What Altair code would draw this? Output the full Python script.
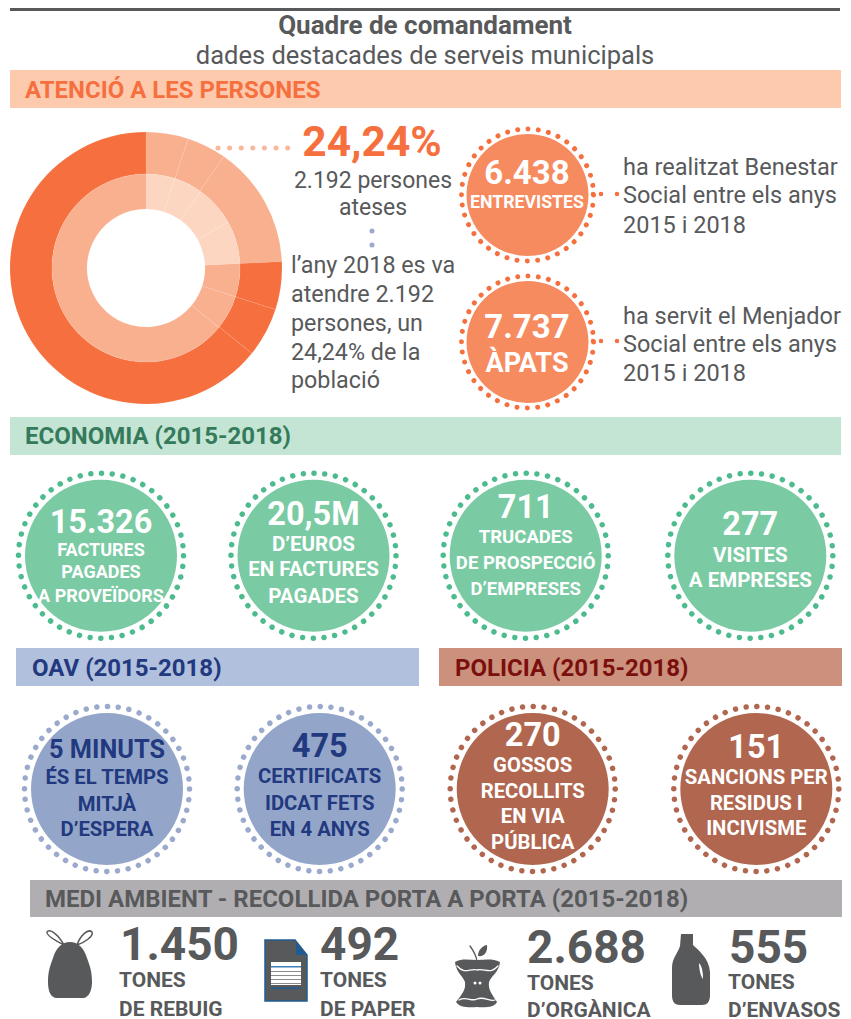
import re
import altair as alt
import pandas as pd

FONT = "Roboto"
GREY = "#58595B"; OR_D = "#F6703F"; OR_M = "#F9B08F"; OR_L = "#FDD6C1"; OR_F = "#F78B60"; OR_H = "#FDCAAE"
GR_F = "#7ACAA3"; GR_H = "#C4E5D4"; GR_T = "#347A5B"; GR_D = "#4DBB8E"
BL_F = "#93A6C9"; BL_H = "#B1C0DC"; BL_T = "#22397F"; BL_D = "#9AA9CC"
BR_F = "#B1674F"; BR_H = "#CC917C"; BR_T = "#7B0F0E"; BR_D = "#B1674F"
MA_H = "#B0AEB1"

# data ----------------------------------------------------------------
outer_values = [5.0, 4.7, 14.55, 5.7, 5.85, 64.2]
inner_values = [4.9, 5.0, 7.0, 7.34, 5.7, 5.95, 64.11]
title = "Quadre de comandament"
subtitle = "dades destacades de serveis municipals"
headers = ["ATENCIÓ A LES PERSONES", "ECONOMIA (2015-2018)", "OAV (2015-2018)", "POLICIA (2015-2018)",
           "MEDI AMBIENT - RECOLLIDA PORTA A PORTA (2015-2018)"]
big_pct = "24,24%"
side_a = ["2.192 persones", "ateses"]
side_b = ["l’any 2018 es va", "atendre 2.192", "persones, un", "24,24% de la", "població"]
note_1 = ["ha realitzat Benestar", "Social entre els anys", "2015 i 2018"]
note_2 = ["ha servit el Menjador", "Social entre els anys", "2015 i 2018"]
orange_1 = ["6.438", "ENTREVISTES"]
orange_2 = ["7.737", "ÀPATS"]
green = [["15.326", "FACTURES", "PAGADES", "A PROVEÏDORS"],
         ["20,5M", "D’EUROS", "EN FACTURES", "PAGADES"],
         ["711", "TRUCADES", "DE PROSPECCIÓ", "D’EMPRESES"],
         ["277", "VISITES", "A EMPRESES"]]
blue = [["5 MINUTS", "ÉS EL TEMPS", "MITJÀ", "D’ESPERA"],
        ["475", "CERTIFICATS", "IDCAT FETS", "EN 4 ANYS"]]
brown = [["270", "GOSSOS", "RECOLLITS", "EN VIA", "PÚBLICA"],
         ["151", "SANCIONS PER", "RESIDUS I", "INCIVISME"]]
waste = [["1.450", "TONES", "DE REBUIG"], ["492", "TONES", "DE PAPER"],
         ["2.688", "TONES", "D’ORGÀNICA"], ["555", "TONES", "D’ENVASOS"]]

# helpers: all positions are page pixels, chart origin is at (8,8) ------
O = 8
layers = []
ONE = pd.DataFrame({"k": [0]})

def T(s, x, y, size, color=GREY, bold=True, align="center"):
    layers.append(alt.Chart(pd.DataFrame({"t": [s]})).mark_text(
        font=FONT, fontSize=size, fontWeight="bold" if bold else "normal",
        color=color, align=align, baseline="alphabetic").encode(
        x=alt.value(x - O), y=alt.value(y - O), text="t:N"))

def R(x0, x1, y0, y1, color):
    layers.append(alt.Chart(ONE).mark_rect(color=color, opacity=1).encode(
        x=alt.value(x0 - O), x2=alt.value(x1 - O), y=alt.value(y0 - O), y2=alt.value(y1 - O)))

def dot(x, y, d, color):
    layers.append(alt.Chart(ONE).mark_circle(color=color, size=d * d, opacity=1).encode(
        x=alt.value(x - O), y=alt.value(y - O)))

def ring(x, y, r, d, n, color):
    per = 2 * 3.14159265 * r / n
    layers.append(alt.Chart(ONE).mark_point(
        filled=False, shape="circle", size=(2 * r) ** 2, stroke=color, strokeWidth=d, opacity=1,
        strokeDash=[0.01, per - 0.01], strokeCap="round").encode(
        x=alt.value(x - O), y=alt.value(y - O)))

def badge(x, y, fill, dots, r=76, rr=82.5, d=5.5, n=48):
    ring(x, y, rr, d, n, dots)
    dot(x, y, 2 * r, fill)

def icon(d, cx, cy, fill=None, stroke=None, sw=1.0):
    H = 50.0
    idx = 0
    def sub(m):
        nonlocal idx
        v = float(m.group(0)) - (cx if idx % 2 == 0 else cy)
        idx += 1
        return f"{v / H:.4f}"
    path = re.sub(r"\d+(\.\d+)?", sub, d)
    kw = dict(shape=path, size=(2 * H) ** 2, opacity=1)
    if fill:
        kw.update(filled=True, fill=fill, strokeWidth=0)
    else:
        kw.update(filled=False, stroke=stroke, strokeWidth=sw, strokeCap="round")
    layers.append(alt.Chart(ONE).mark_point(**kw).encode(x=alt.value(cx - O), y=alt.value(cy - O)))

def stack(lines, x, ys, sizes, color="#FFFFFF"):
    for s, y, z in zip(lines, ys, sizes):
        T(s, x, y, z, color)

# top strip, titles, headers ---------------------------------------------
R(10, 840, 8, 11, GREY)
T(title, 425, 34, 26)
T(subtitle, 425, 64, 25.5, GREY, bold=False)
R(10, 841, 70, 108, OR_H); T(headers[0], 25, 98, 24, OR_D, align="left")
R(10, 841, 417, 455, GR_H); T(headers[1], 25, 444, 24, GR_T, align="left")
R(16, 419, 648, 686, BL_H); T(headers[2], 32, 676, 24, BL_T, align="left")
R(439, 842, 648, 686, BR_H); T(headers[3], 455, 676, 24, BR_T, align="left")
R(30, 842, 880, 917, MA_H); T(headers[4], 45, 907, 24, GREY, align="left")

# donut --------------------------------------------------------------------
def donut(vals, cols, ro, ri):
    df = pd.DataFrame({"v": vals, "i": range(len(vals)), "c": cols})
    layers.append(alt.Chart(df).mark_arc(outerRadius=ro, innerRadius=ri, stroke="#FFFFFF",
                                         strokeWidth=0.3, strokeOpacity=0.25).encode(
        x=alt.value(146 - O), y=alt.value(268 - O),
        theta=alt.Theta("v:Q", stack=True, scale=alt.Scale(domain=[0, 100], range=[0, 6.283185])),
        order=alt.Order("i:O"), color=alt.Color("c:N", scale=None)))

donut(outer_values, [OR_M] * 3 + [OR_D] * 3, 136, 94)
donut(inner_values, [OR_L] * 4 + [OR_M] * 3, 94, 59)

layers.append(alt.Chart(ONE).mark_rule(color="#F9B79B", strokeWidth=5, strokeDash=[0.01, 11.6], strokeCap="round").encode(
    x=alt.value(218 - O), x2=alt.value(290 - O), y=alt.value(148 - O)))
T(big_pct, 372, 156, 42.5, OR_D)
for s, y in zip(side_a, [188, 215]):
    T(s, 373, y, 23, GREY, bold=False)
dot(372, 231, 5, BL_D); dot(372, 245, 5, BL_D)
for s, y in zip(side_b, [273, 302, 331, 360, 388]):
    T(s, 291, y, 23.3, GREY, bold=False, align="left")

# orange badges ---------------------------------------------------------------
for cy in (195, 342):
    for x in (593, 601, 617):
        dot(x, cy - 1, 4.5, OR_D)
badge(527.5, 195, OR_F, OR_D, r=61, rr=66, d=5, n=40)
badge(527.5, 342, OR_F, OR_D, r=61, rr=66, d=5, n=40)
stack(orange_1, 527, [184, 208], [33, 17.7])
stack(orange_2, 527, [338, 372], [33, 27])
for s, y in zip(note_1, [175, 203, 233]):
    T(s, 623, y, 23.5, GREY, bold=False, align="left")
for s, y in zip(note_2, [324, 352, 381]):
    T(s, 623, y, 23.5, GREY, bold=False, align="left")

# green --------------------------------------------------------------------------
GX = [101, 313.5, 525.7, 750.3]
for x in GX:
    badge(x, 555.7, GR_F, GR_D)
stack(green[0], GX[0], [533, 556, 578, 602], [32.5, 18, 18, 18])
stack(green[1], GX[1], [525, 551, 576, 603], [32.5, 20.5, 20.5, 20.5])
stack(green[2], GX[2], [518, 543, 569, 595], [32.5, 18.5, 18.5, 18.5])
stack(green[3], GX[3], [535, 562, 587], [32.5, 20.5, 20.5])

# blue / brown ---------------------------------------------------------------------
BX = [107, 319.7]
for x in BX:
    badge(x, 789, BL_F, BL_D)
stack(blue[0], BX[0], [758, 784, 811, 836], [25.3, 20.3, 20.3, 20.3], BL_T)
stack(blue[1], BX[1], [757, 783, 810, 836], [32.5, 20.3, 20.3, 20.3], BL_T)
RX = [532.7, 756.3]
for x in RX:
    badge(x, 789, BR_F, BR_D)
stack(brown[0], RX[0], [746, 772, 798, 823, 849], [32.5, 20.3, 20.3, 20.3, 20.3])
stack(brown[1], RX[1], [758, 784, 810, 835], [32.5, 20.3, 20.3, 20.3])

# waste totals --------------------------------------------------------------------
WX = [(120, 119, 960, 987, 1016), (320, 320, 960, 987, 1016), (527, 527, 963, 990, 1017), (729, 728, 963, 989, 1017)]
for row, (xa, xb, y0, y1, y2) in zip(waste, WX):
    T(row[0], xa, y0, 46, GREY, align="left")
    T(row[1], xb, y1, 21, GREY, align="left")
    T(row[2], xb, y2, 21, GREY, align="left")

# icons: shapes only --------------------------------------------------------------
icon("M70 942 C78 942 84 948 87 958 C90 966 92 972 92 982 C92 992 88 997 84 998 L56 998 C51 997 48 992 48 982 C48 972 50 966 53 958 C56 948 62 942 70 942 Z", 70, 965, fill=GREY)
icon("M64 945 C58 942 46 936 47 932 C49 928 58 934 64 945 M77 945 C80 936 88 928 92 932 C94 936 84 943 77 945", 70, 965, stroke=GREY, sw=1.5)

icon("M265 940 L295 940 L307 955 L307 1001 L265 1001 Z", 286, 970, fill=GREY)
icon("M265 940 L295 940 L307 955 L307 1001 L265 1001 Z", 286, 970, stroke="#1F5C94", sw=1.5)
icon("M296 943 L306 955 L296 955 Z", 286, 970, fill="#1F5C94")
R(271, 301, 962, 985, "#FFFFFF")
R(271, 301, 966, 967.5, "#3C7FB8")
for y in (971, 975, 979, 983):
    R(271, 301, y, y + 1, "#8A8C8E")
R(271, 301, 987.5, 989, "#1F5C94")

icon("M455 962 C462 958 470 960 477 960 C484 960 492 958 500 962 C499 972 492 975 489 982 C488 990 492 994 497 1002 C495 1007 485 1008 477 1007 C468 1008 459 1007 456 1002 C462 994 466 990 465 982 C462 975 456 972 455 962 Z", 477, 975, fill=GREY)
icon("M457 966 C465 975 470 968 477 970 C485 968 490 975 498 966 M459 1000 C466 996 472 1002 477 999 C484 996 490 1002 495 1000", 477, 975, stroke="#FFFFFF", sw=1.3)
icon("M477 961 C476 955 473 950 470 946", 477, 975, stroke=GREY, sw=1.3)
icon("M478 956 C478 949 484 945 487 945 C488 952 484 957 478 956 Z", 477, 975, fill=GREY)
dot(475, 983, 3, "#FFFFFF"); dot(480, 983, 3, "#FFFFFF")

icon("M681 934 L693 934 L693 945 C698 950 709 958 710 972 L710 995 C710 1002 707 1005 702 1005 L680 1005 C675 1005 672 1002 672 995 L672 968 C672 958 678 953 680 946 Z", 690, 970, fill=GREY)
icon("M699 963 C702 966 703 972 703 979 C701 977 699 970 699 963 Z", 690, 970, fill="#FFFFFF")

chart = alt.layer(*layers).properties(width=835, height=1011, padding=0, autosize="none", background="#FFFFFF").configure_view(stroke=None)
chart.save("out.html", embed_options={"renderer": "svg", "actions": False})
